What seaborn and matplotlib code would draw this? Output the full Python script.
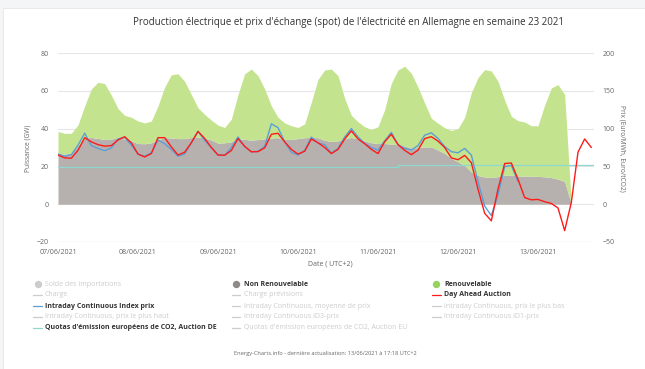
import numpy as np
import pandas as pd
import matplotlib
matplotlib.use("Agg")
import matplotlib.pyplot as plt
import matplotlib.dates as mdates
from matplotlib.lines import Line2D
from matplotlib.patches import Rectangle
import seaborn as sns

# pas de 2 h a partir du lundi 07/06/2021 00:00 (UTC+2)
start = pd.Timestamp("2021-06-07 00:00")
hours = np.arange(0, 162, 2)
times = start + pd.to_timedelta(hours, unit="h")

# GW, une ligne = un jour (0h, 2h, ... 22h)
non_renouvelable = [
    26.5, 26.5, 27.0, 31.0, 35.0, 35.3, 34.8, 34.2, 34.5, 35.3, 34.5, 33.5,
    32.1, 32.0, 32.5, 34.0, 35.3, 35.0, 34.7, 34.7, 35.3, 35.5, 35.0, 34.0,
    32.3, 32.5, 33.0, 34.5, 34.3, 33.9, 34.2, 34.6, 35.0, 35.2, 34.2, 34.3,
    34.7, 35.2, 35.3, 35.2, 33.8, 33.2, 33.5, 34.6, 35.3, 34.5, 33.5, 32.5,
    32.1, 32.1, 31.8, 31.4, 30.8, 29.6, 30.0, 30.3, 30.3, 28.6, 26.9, 24.3,
    22.4, 20.5, 17.0, 15.2, 14.4, 14.1, 14.6, 15.3, 15.3, 15.0, 14.8, 14.8,
    14.7, 14.5, 14.1, 13.3, 12.0, 0.0,
]
renouvelable = [
    12.0, 11.0, 10.5, 11.0, 17.0, 25.7, 29.7, 29.6, 23.2, 15.3, 12.5, 12.5,
    11.9, 11.0, 11.5, 18.0, 26.7, 33.5, 34.3, 30.3, 22.7, 15.5, 12.5, 10.5,
    9.5, 8.1, 12.0, 23.5, 34.7, 37.6, 33.8, 26.4, 17.0, 10.8, 8.8, 7.2,
    5.9, 7.3, 18.7, 30.8, 37.2, 38.3, 34.5, 21.4, 11.7, 9.1, 7.5, 7.0,
    8.9, 17.9, 32.2, 39.6, 42.2, 39.7, 32.0, 23.2, 15.2, 14.2, 13.6, 14.7,
    17.6, 25.5, 42.0, 51.8, 56.8, 56.4, 50.4, 39.7, 31.2, 29.2, 28.7, 26.7,
    26.8, 38.0, 47.4, 50.0, 46.0, 0.0,
]

# Euro/MWh
day_ahead = [
    65.0, 61.3, 60.8, 71.3, 88.0, 82.5, 78.8, 76.8, 77.5, 85.0, 89.3, 81.3,
    66.3, 62.5, 67.0, 88.0, 88.0, 75.8, 65.0, 68.8, 81.3, 96.3, 87.0, 75.0,
    65.0, 64.8, 71.0, 86.8, 76.5, 69.3, 69.5, 74.5, 92.5, 93.8, 82.5, 72.5,
    66.3, 70.0, 86.3, 81.3, 75.0, 67.0, 72.5, 86.3, 97.0, 86.3, 80.0, 72.5,
    67.0, 82.5, 92.5, 78.8, 71.3, 65.5, 71.5, 86.8, 89.3, 83.5, 75.0, 61.3,
    58.8, 64.5, 55.0, 20.0, -12.0, -22.0, 20.0, 53.8, 54.5, 33.0, 8.8, 5.8,
    6.3, 3.3, 1.0, -5.0, -35.0, 2.5, 68.8, 86.3, 75.0,
]
intraday_index = [
    66.3, 63.5, 65.5, 78.0, 94.0, 77.5, 73.8, 70.8, 74.5, 86.3, 88.3, 78.3,
    66.3, 63.5, 68.0, 84.8, 80.0, 72.5, 63.5, 66.3, 81.3, 96.3, 84.5, 75.0,
    65.5, 64.8, 75.0, 89.0, 76.3, 69.3, 70.0, 76.3, 106.3, 101.3, 82.5, 68.8,
    65.0, 71.3, 88.8, 81.0, 78.8, 67.5, 73.8, 88.8, 100.0, 89.0, 80.5, 75.0,
    71.5, 83.8, 95.0, 78.8, 73.8, 71.8, 77.5, 91.3, 94.5, 87.0, 76.3, 69.5,
    68.0, 73.8, 65.0, 30.0, -2.5, -15.0, 12.5, 49.5, 51.3, 30.0,
]

# Euro/tCO2, enchere DE
co2_hours = [0, 102, 161]
co2_de = [49.4, 52.5, 52.5]
co2_times = start + pd.to_timedelta(co2_hours, unit="h")

W, H = 645, 369
GREEN, GREEN_M = "#c4e38e", "#95d35c"
GREY, GREY_M = "#b6b1ae", "#8f8a87"
RED, BLUE, CYAN = "#ff1a1a", "#5b9fd6", "#8fd8d0"
OFF = "#cccccc"

sns.set_style("white")
plt.rcParams["font.family"] = ["Open Sans", "DejaVu Sans"]

fig = plt.figure(figsize=(W / 100, H / 100), dpi=100, facecolor="#f4f5f7")
fig.patches.append(Rectangle((3 / W, 0), 1, (H - 8) / H, transform=fig.transFigure,
                             facecolor="white", edgecolor="#e6e6e6", lw=0.6, zorder=-10))

def px(x, y):
    return x / W, 1 - y / H

left, right, top, bottom = 58, 594, 53, 242
ax = fig.add_axes([left / W, 1 - bottom / H, (right - left) / W, (bottom - top) / H])
ax.set_facecolor("none")
ax2 = ax.twinx()

# aires empilees
n = len(non_renouvelable)
t_area = times[:n]
nr = np.array(non_renouvelable)
total = nr + np.array(renouvelable)
ax.fill_between(t_area, 0, nr, color=GREY, lw=0, zorder=2)
ax.fill_between(t_area, nr, total, color=GREEN, lw=0, zorder=2)

sns.lineplot(x=co2_times, y=co2_de, ax=ax2, color=CYAN, lw=0.9, drawstyle="steps-post")
sns.lineplot(x=times[:len(intraday_index)], y=intraday_index, ax=ax2, color=BLUE, lw=1.0)
sns.lineplot(x=times[:len(day_ahead)], y=day_ahead, ax=ax2, color=RED, lw=1.0)

x0 = start
x1 = start + pd.Timedelta(hours=160.8)
for a in (ax, ax2):
    a.set_xlim(x0, x1)
    for s in a.spines.values():
        s.set_visible(False)
    a.tick_params(length=0, colors="#666666", labelsize=5)
ax.set_ylim(-20, 80)
ax2.set_ylim(-50, 200)
ax.set_yticks(range(-20, 81, 20))
ax2.set_yticks(range(-50, 201, 50))
ax.tick_params(axis="y", pad=6.5)
ax2.tick_params(axis="y", pad=6.3)
ax.tick_params(axis="x", pad=5.2)
ax.grid(False)
ax2.grid(False)
for v in range(0, 81, 20):
    ax.axhline(v, color="#e6e6e6", lw=0.8, zorder=0)
ax.axhline(-20, color="#ccd6eb", lw=0.9, zorder=0)
ax.xaxis.set_major_locator(mdates.DayLocator())
ax.xaxis.set_major_formatter(mdates.DateFormatter("%d/%m/%Y"))
ax.set_xlabel("")
ax.set_ylabel("")
ax2.set_xlabel("")
ax2.set_ylabel("")

fig.text(*px(348, 22), "Production électrique et prix d'échange (spot) de l'électricité en Allemagne en semaine 23 2021",
         ha="center", va="center", fontsize=7.0, color="#333333")
fig.text(*px(28, 148), "Puissance (GW)", rotation=90, ha="center", va="center", fontsize=4.8, color="#666666")
fig.text(*px(622, 148), "Prix (Euro/MWh, Euro/tCO2)", rotation=270, ha="center", va="center",
         fontsize=4.8, color="#666666")
fig.text(*px(330, 264), "Date ( UTC+2)", ha="center", va="center", fontsize=5, color="#666666")
fig.text(*px(325, 353), "Energy-Charts.info - dernière actualisation: 13/06/2021 à 17:18 UTC+2",
         ha="center", va="center", fontsize=4.1, color="#666666")

# legende: (colonne, ligne, texte, type, couleur)
col_x = [(37.5, 45), (236, 244), (436, 444)]
row_y = [284.3, 295, 306, 316.7, 327.5]
legend_items = [
    (0, 0, "Solde des importations", "o", None),
    (0, 1, "Charge", "-", None),
    (0, 2, "Intraday Continuous Index prix", "-", BLUE),
    (0, 3, "Intraday Continuous, prix le plus haut", "-", None),
    (0, 4, "Quotas d'émission européens de CO2, Auction DE", "-", CYAN),
    (1, 0, "Non Renouvelable", "o", GREY_M),
    (1, 1, "Charge prévisions", "-", None),
    (1, 2, "Intraday Continuous, moyenne de prix", "-", None),
    (1, 3, "Intraday Continuous ID3-prix", "-", None),
    (1, 4, "Quotas d'émission européens de CO2, Auction EU", "-", None),
    (2, 0, "Renouvelable", "o", GREEN_M),
    (2, 1, "Day Ahead Auction", "-", RED),
    (2, 2, "Intraday Continuous, prix le plus bas", "-", None),
    (2, 3, "Intraday Continuous ID1-prix", "-", None),
]
for c, r, label, kind, color in legend_items:
    mx, tx = col_x[c]
    y = row_y[r]
    col = color if color else OFF
    if kind == "o":
        fig.add_artist(Line2D([mx / W], [1 - y / H], marker="o", markersize=4.3, color=col,
                              transform=fig.transFigure, lw=0))
    else:
        fig.add_artist(Line2D([(mx - 4.5) / W, (mx + 4.5) / W], [1 - y / H] * 2, color=col,
                              lw=0.9, transform=fig.transFigure))
    fig.text(tx / W, 1 - y / H, label, ha="left", va="center", fontsize=5.0,
             color="#333333" if color else OFF, fontweight="bold" if color else "normal")

fig.savefig("out.png", dpi=100, facecolor=fig.get_facecolor())
